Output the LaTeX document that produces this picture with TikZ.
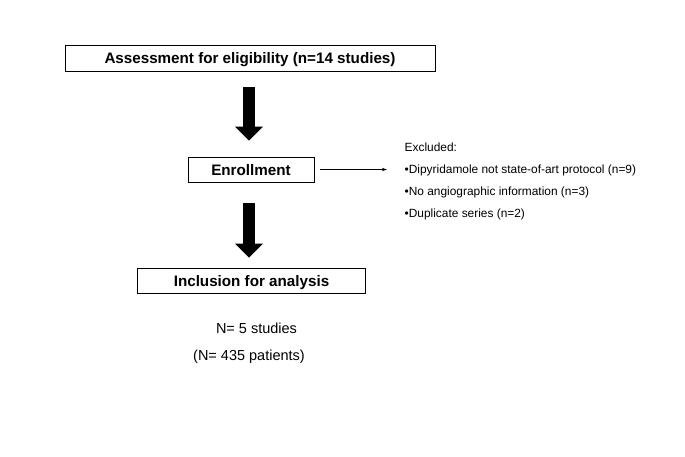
\documentclass[tikz,border=0pt]{standalone}
\usepackage{fontspec}
\setmainfont{Liberation Sans}
\usepackage{tikz}
\usetikzlibrary{arrows.meta, positioning}

\begin{document}
\begin{tikzpicture}[>=latex, x=1pt, y=-1pt,
    box/.style={draw, line width=0.8pt, inner sep=0pt, minimum height=25pt,
        text height=11pt, text depth=0pt,
        font=\fontsize{15.2}{18}\selectfont\bfseries},
    bigarrow/.style={line width=12pt, -{Triangle[length=14pt, width=27pt]}},
    note/.style={inner sep=0pt, font=\fontsize{14.5}{18}\selectfont}]
    \useasboundingbox (0,0) rectangle (685,456);

    % Các ô
    \node[box, minimum width=370pt, minimum height=26pt] (assess) at (250,58) {Assessment for eligibility (n=14 studies)};
    \node[box, minimum width=126pt] (enroll) at (251,169.5) {Enrollment};
    \node[box, minimum width=228pt] (incl) at (251.5,280.5) {Inclusion for analysis};

    % Mũi tên lớn
    \draw[bigarrow, shorten <=16pt, shorten >=16pt]
        (assess.south -| 249,0) -- (enroll.north -| 249,0);
    \draw[bigarrow, shorten <=21pt, shorten >=10pt]
        (enroll.south -| 249,0) -- (incl.north -| 249,0);

    % Loại trừ
    \coordinate (exclend) at (387,169.5);
    \draw[->, line width=0.6pt, shorten <=6pt] (enroll.east) -- (exclend);
    \node[anchor=north west, inner sep=0pt, align=left,
        font=\fontsize{11.9}{22}\selectfont] (excl) at (404.5,142.3)
        {Excluded:\\
         •Dipyridamole not state-of-art protocol (n=9)\\
         •No angiographic information (n=3)\\
         •Duplicate series (n=2)};

    % Kết quả
    \node[note, anchor=base] (nstud) at (256.5,333) {N= 5 studies};
    \node[note, anchor=base] (npat) at (249,360) {(N= 435 patients)};
\end{tikzpicture}
\end{document}
